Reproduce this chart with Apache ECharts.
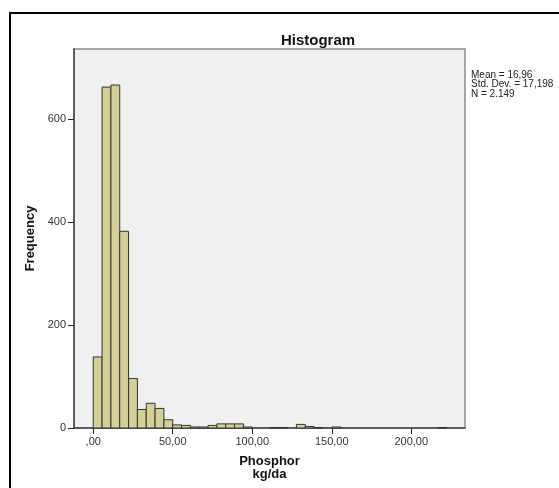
<!DOCTYPE html>
<html>
<head>
<meta charset="utf-8">
<script src="https://cdn.jsdelivr.net/npm/echarts@6/dist/echarts.min.js"></script>
<style>
  html, body { margin: 0; padding: 0; background: #fff; }
  #chart { width: 559px; height: 488px; }
</style>
</head>
<body>
<div id="chart"></div>
<script>
// histogram bins: start at 0, width 100/18
const binStart = 0;
const binWidth = 100 / 18;
const counts = [138, 662, 666, 382, 96, 36, 48, 38, 16, 6,
                5, 2, 2, 5, 8, 8, 8, 2, 0, 0,
                1, 1, 0, 7, 3, 1, 0, 2, 0, 0,
                0, 0, 0, 0, 0, 0, 0, 0, 0, 1];
const xTicks = [0, 50, 100, 150, 200];
const yTicks = [0, 200, 400, 600];
const statsLines = ['Mean = 16,96', 'Std. Dev. = 17,198', 'N = 2.149'];

const bins = counts
  .map((c, i) => [binStart + i * binWidth, binStart + (i + 1) * binWidth, c])
  .filter(b => b[2] > 0);

const chart = echarts.init(document.getElementById('chart'));

const axisFont = { fontFamily: 'Liberation Sans', fontSize: 11, color: '#333' };

const option = {
  backgroundColor: '#fff',
  animation: false,
  title: {
    text: 'Histogram',
    left: 313,
    top: 28,
    textAlign: 'center',
    textStyle: { fontFamily: 'Liberation Sans', fontSize: 15, fontWeight: 'bold', color: '#111' }
  },
  grid: {
    left: 74, top: 49, right: 94, bottom: 60,
    show: true,
    backgroundColor: '#f0f0f0',
    borderColor: '#8a8a8a',
    borderWidth: 1.5
  },
  xAxis: {
    type: 'value',
    min: -12.1,
    max: 233.8,
    name: 'Phosphor\nkg/da',
    nameLocation: 'middle',
    nameGap: 27,
    nameTextStyle: { fontFamily: 'Liberation Sans', fontSize: 13, fontWeight: 'bold', color: '#111', lineHeight: 13 },
    axisLine: { onZero: false, lineStyle: { color: '#444', width: 1.5 } },
    axisTick: { show: true, length: 6, customValues: xTicks, lineStyle: { color: '#222' } },
    axisLabel: {
      ...axisFont,
      margin: 8,
      customValues: xTicks,
      formatter: v => (v === 0 ? ',00' : v + ',00')
    },
    splitLine: { show: false }
  },
  yAxis: {
    type: 'value',
    min: 0,
    max: 736,
    name: 'Frequency',
    nameLocation: 'middle',
    nameGap: 33,
    nameTextStyle: { fontFamily: 'Liberation Sans', fontSize: 13, fontWeight: 'bold', color: '#111' },
    axisLine: { show: true, onZero: false, lineStyle: { color: '#444', width: 1.5 } },
    axisTick: { show: true, length: 6, customValues: yTicks, lineStyle: { color: '#222' } },
    axisLabel: { ...axisFont, margin: 8, customValues: yTicks },
    splitLine: { show: false }
  },
  graphic: [
    {
      type: 'rect',
      shape: { x: 10, y: 13, width: 700, height: 700 },
      style: { fill: 'none', stroke: '#000', lineWidth: 2 },
      silent: true
    },
    {
      type: 'text',
      left: 471,
      top: 70,
      style: {
        text: statsLines.join('\n'),
        font: '10px "Liberation Sans"',
        lineHeight: 9.5,
        fill: '#222'
      }
    }
  ],
  series: [{
    type: 'custom',
    data: bins,
    encode: { x: [0, 1], y: 2 },
    renderItem: (params, api) => {
      const p0 = api.coord([api.value(0), api.value(2)]);
      const p1 = api.coord([api.value(1), 0]);
      return {
        type: 'rect',
        shape: { x: p0[0], y: p0[1], width: p1[0] - p0[0], height: p1[1] - p0[1] },
        style: { fill: '#d4cf97', stroke: '#333', lineWidth: 1 }
      };
    }
  }]
};

chart.setOption(option);
</script>
</body>
</html>
